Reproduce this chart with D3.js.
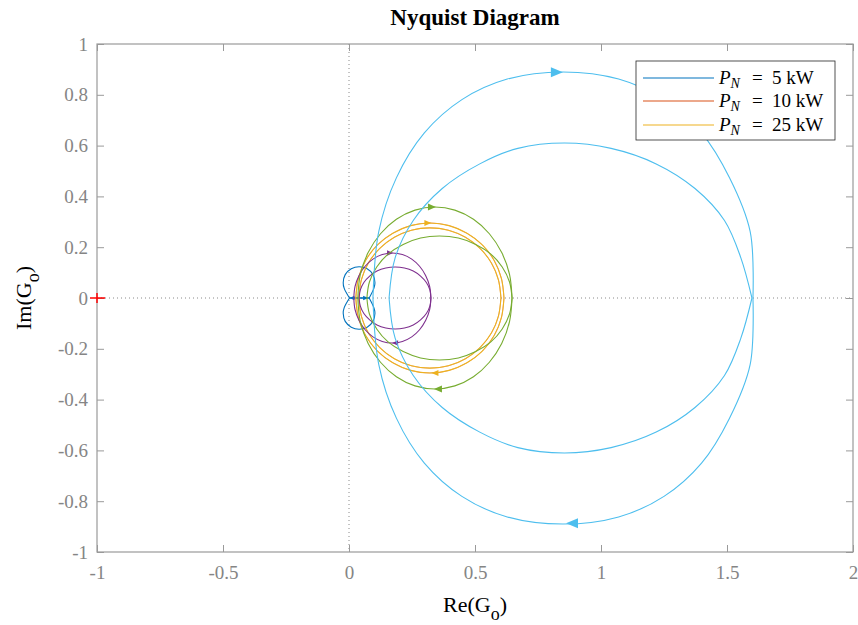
<!DOCTYPE html>
<html lang="en">
<head>
<meta charset="UTF-8">
<title>Nyquist Diagram</title>
<script src="https://d3js.org/d3.v7.min.js"></script>
<style>
    body { margin: 0; background: #fff; }
    svg { display: block; font-family: "Liberation Serif", "Times New Roman", serif; }
    .tick text { fill: #858585; font-size: 19px; font-family: "Liberation Serif", serif; }
    .tick line { stroke: #9a9a9a; }
</style>
</head>
<body>
<svg id="chart"></svg>
<script>
    // Tick values and labels
    const xTicks = [-1, -0.5, 0, 0.5, 1, 1.5, 2];
    const xTickLabels = ["-1", "-0.5", "0", "0.5", "1", "1.5", "2"];
    const yTicks = [-1, -0.8, -0.6, -0.4, -0.2, 0, 0.2, 0.4, 0.6, 0.8, 1];
    const yTickLabels = ["-1", "-0.8", "-0.6", "-0.4", "-0.2", "0", "0.2", "0.4", "0.6", "0.8", "1"];

    // Upper halves of each Nyquist contour [Re, Im].
    // The lower half is the complex conjugate.
    const blueOuter = [[0.002, 0], [-0.019, 0.038], [-0.023, 0.060], [-0.015, 0.092], [0.009, 0.115], [0.040, 0.123],
        [0.072, 0.115], [0.095, 0.092], [0.103, 0.060], [0.099, 0.039], [0.080, 0]];
    const blueInner = [[0.002, 0], [0.080, 0]];

    const yellowOuter = [[0.027, 0], [0.037, 0.076], [0.066, 0.148], [0.113, 0.209], [0.174, 0.255], [0.245, 0.285],
        [0.321, 0.295], [0.397, 0.285], [0.468, 0.255], [0.529, 0.209], [0.576, 0.148], [0.605, 0.076], [0.615, 0]];
    const yellowInner = [[0.039, 0], [0.049, 0.071], [0.077, 0.138], [0.122, 0.195], [0.180, 0.239], [0.248, 0.267],
        [0.321, 0.276], [0.394, 0.267], [0.462, 0.239], [0.520, 0.195], [0.565, 0.138], [0.593, 0.071], [0.603, 0]];
    // 10 kW lies under the 25 kW curve
    const orangeOuter = yellowOuter;
    const orangeInner = yellowInner;

    const purpleOuter = [[0.019, 0], [0.024, 0.046], [0.040, 0.089], [0.064, 0.125], [0.095, 0.153], [0.132, 0.171],
        [0.172, 0.177], [0.212, 0.171], [0.249, 0.153], [0.280, 0.125], [0.304, 0.089], [0.320, 0.046], [0.325, 0]];
    const purpleInner = [[0.040, 0], [0.045, 0.032], [0.059, 0.061], [0.082, 0.086], [0.111, 0.106], [0.146, 0.118],
        [0.183, 0.122], [0.220, 0.118], [0.255, 0.106], [0.284, 0.086], [0.307, 0.061], [0.321, 0.032], [0.325, 0]];

    const greenOuter = [[0.035, 0], [0.045, 0.093], [0.076, 0.179], [0.125, 0.253], [0.188, 0.310], [0.262, 0.346],
        [0.341, 0.358], [0.420, 0.346], [0.494, 0.310], [0.557, 0.253], [0.606, 0.179], [0.637, 0.093], [0.647, 0]];
    const greenInner = [[0.071, 0], [0.081, 0.063], [0.110, 0.122], [0.155, 0.173], [0.215, 0.211], [0.284, 0.236],
        [0.359, 0.244], [0.434, 0.236], [0.503, 0.211], [0.563, 0.173], [0.608, 0.122], [0.637, 0.063], [0.647, 0]];

    const cyanOuter = [[0.095, 0], [0.118, 0.261], [0.188, 0.473], [0.299, 0.650], [0.448, 0.781], [0.628, 0.862],
        [0.849, 0.890], [1.070, 0.862], [1.250, 0.781], [1.399, 0.650], [1.510, 0.473], [1.592, 0.261], [1.603, 0]];
    const cyanInner = [[0.159, 0], [0.183, 0.158], [0.255, 0.305], [0.370, 0.431], [0.519, 0.528], [0.670, 0.589],
        [0.855, 0.610], [1.040, 0.589], [1.219, 0.528], [1.373, 0.431], [1.490, 0.305], [1.555, 0.158], [1.599, 0]];

    // Arrow heads [Re, Im, direction (+1 right, -1 left)]
    const blueArrows = [[0.012, 0, -1], [0.066, 0, 1]];
    const yellowArrows = [[0.313, 0.295, 1], [0.341, -0.295, -1]];
    const purpleArrows = [[0.163, 0.177, 1], [0.183, -0.177, -1]];
    const greenArrows = [[0.329, 0.358, 1], [0.353, -0.358, -1]];
    const cyanArrows = [[0.825, 0.889, 1], [0.885, -0.887, -1]];

    const legendLabels = ["5", "10", "25"];

    const series = [
        { color: "#0072BD", outer: blueOuter, inner: blueInner, arrows: blueArrows, size: [5, 2.2], lw: 1.1 },
        { color: "#D95319", outer: orangeOuter, inner: orangeInner, arrows: [], size: [7, 3], lw: 0.5 },
        { color: "#EDB120", outer: yellowOuter, inner: yellowInner, arrows: yellowArrows, size: [7, 3], lw: 1.1 },
        { color: "#7E2F8E", outer: purpleOuter, inner: purpleInner, arrows: purpleArrows, size: [6, 2.8], lw: 1.1 },
        { color: "#77AC30", outer: greenOuter, inner: greenInner, arrows: greenArrows, size: [8, 3.5], lw: 1.1 },
        { color: "#4DBEEE", outer: cyanOuter, inner: cyanInner, arrows: cyanArrows, size: [12, 5], lw: 1.1 }
    ];

    const width = 858, height = 625;
    const margin = { top: 44, right: 5, bottom: 73, left: 97 };

    const svg = d3.select("#chart").attr("width", width).attr("height", height);

    const x = d3.scaleLinear().domain([-1, 2]).range([margin.left, width - margin.right]);
    const y = d3.scaleLinear().domain([-1, 1]).range([height - margin.bottom, margin.top]);

    svg.append("clipPath").attr("id", "plot-clip")
        .append("rect")
        .attr("x", x(-1)).attr("y", y(1))
        .attr("width", x(2) - x(-1)).attr("height", y(-1) - y(1));

    // Dotted zero lines
    svg.append("line")
        .attr("x1", x(0)).attr("x2", x(0)).attr("y1", y(1)).attr("y2", y(-1))
        .attr("stroke", "#8a8a8a").attr("stroke-dasharray", "1,3");
    svg.append("line")
        .attr("x1", x(-1)).attr("x2", x(2)).attr("y1", y(0)).attr("y2", y(0))
        .attr("stroke", "#8a8a8a").attr("stroke-dasharray", "1,3");

    const line = d3.line()
        .x(d => x(d[0]))
        .y(d => y(d[1]))
        .curve(d3.curveCatmullRom.alpha(0.5));
    const mirror = pts => pts.map(d => [d[0], -d[1]]);

    const plot = svg.append("g").attr("clip-path", "url(#plot-clip)");

    series.forEach(s => {
        const g = plot.append("g");
        [s.outer, s.inner, mirror(s.outer), mirror(s.inner)].forEach(pts => {
            g.append("path")
                .attr("d", line(pts))
                .attr("fill", "none")
                .attr("stroke", s.color)
                .attr("stroke-width", s.lw);
        });
        const [L, w] = s.size;
        g.selectAll(".arrow")
            .data(s.arrows)
            .enter().append("path")
            .attr("d", d => {
                const px = x(d[0]), py = y(d[1]), k = d[2];
                return `M${px + k * L / 2},${py} L${px - k * L / 2},${py - w} L${px - k * L / 2},${py + w} Z`;
            })
            .attr("fill", s.color);
    });

    // Axes (ticks inside)
    svg.append("g")
        .attr("transform", `translate(0,${y(-1)})`)
        .call(d3.axisBottom(x).tickValues(xTicks).tickFormat((d, i) => xTickLabels[i])
            .tickSizeInner(-7).tickSizeOuter(0).tickPadding(14))
        .call(g => g.select(".domain").remove());
    svg.append("g")
        .attr("transform", `translate(0,${y(1)})`)
        .call(d3.axisTop(x).tickValues(xTicks).tickFormat("").tickSizeInner(-7).tickSizeOuter(0))
        .call(g => g.select(".domain").remove());
    svg.append("g")
        .attr("transform", `translate(${x(-1)},0)`)
        .call(d3.axisLeft(y).tickValues(yTicks).tickFormat((d, i) => yTickLabels[i])
            .tickSizeInner(-7).tickSizeOuter(0).tickPadding(9))
        .call(g => g.select(".domain").remove());
    svg.append("g")
        .attr("transform", `translate(${x(2)},0)`)
        .call(d3.axisRight(y).tickValues(yTicks).tickFormat("").tickSizeInner(-7).tickSizeOuter(0))
        .call(g => g.select(".domain").remove());

    svg.append("rect")
        .attr("x", x(-1)).attr("y", y(1))
        .attr("width", x(2) - x(-1)).attr("height", y(-1) - y(1))
        .attr("fill", "none").attr("stroke", "#9a9a9a").attr("stroke-width", 1.2);

    // Critical point -1 + 0j
    svg.append("line")
        .attr("x1", x(-1) - 7).attr("x2", x(-1) + 8).attr("y1", y(0)).attr("y2", y(0))
        .attr("stroke", "#ff0000").attr("stroke-width", 1.5);
    svg.append("line")
        .attr("x1", x(-1)).attr("x2", x(-1)).attr("y1", y(0) - 5).attr("y2", y(0) + 5)
        .attr("stroke", "#ff0000").attr("stroke-width", 1.5);

    // Title and axis labels
    svg.append("text")
        .attr("x", (x(-1) + x(2)) / 2).attr("y", 25)
        .attr("text-anchor", "middle")
        .attr("font-size", 23).attr("font-weight", "bold")
        .text("Nyquist Diagram");

    const xl = svg.append("text")
        .attr("x", (x(-1) + x(2)) / 2).attr("y", 612)
        .attr("text-anchor", "middle").attr("font-size", 22);
    xl.append("tspan").text("Re(G");
    xl.append("tspan").attr("dy", 8).attr("font-size", 18).text("o");
    xl.append("tspan").attr("dy", -8).text(")");

    const yl = svg.append("text")
        .attr("transform", `translate(31,${y(0)}) rotate(-90)`)
        .attr("text-anchor", "middle").attr("font-size", 22);
    yl.append("tspan").text("Im(G");
    yl.append("tspan").attr("dy", 8).attr("font-size", 18).text("o");
    yl.append("tspan").attr("dy", -8).text(")");

    // Legend
    const legend = svg.append("g");
    legend.append("rect")
        .attr("x", 636).attr("y", 61).attr("width", 199).attr("height", 79)
        .attr("fill", "#fff").attr("stroke", "#262626").attr("stroke-width", 0.8);

    const legendRows = [78, 101, 125];
    legendLabels.forEach((lab, i) => {
        const cy = legendRows[i];
        legend.append("line")
            .attr("x1", 643).attr("x2", 714).attr("y1", cy).attr("y2", cy)
            .attr("stroke", series[i].color).attr("stroke-width", 1.1);
        const t = legend.append("text")
            .attr("y", cy + 6)
            .attr("font-size", 19);
        t.append("tspan").attr("x", 719).attr("font-style", "italic").text("P");
        t.append("tspan").attr("font-style", "italic").attr("font-size", 14).attr("dy", 4).text("N");
        t.append("tspan").attr("x", 752).attr("dy", -4).text("=");
        t.append("tspan").attr("x", 772).text(lab + " kW");
    });
</script>
</body>
</html>
